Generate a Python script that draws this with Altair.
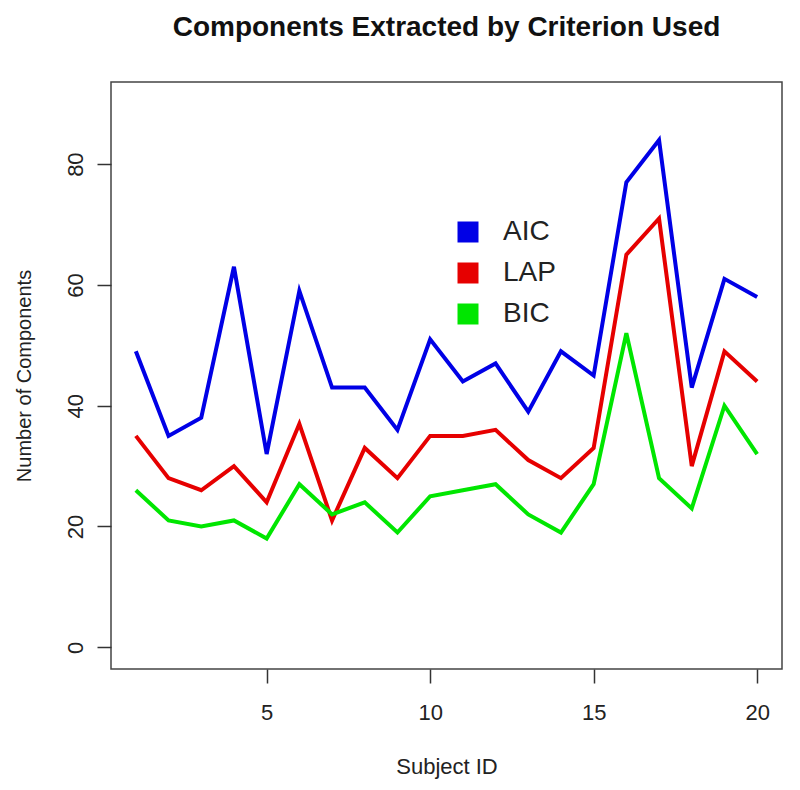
import altair as alt
import pandas as pd

subjects = list(range(1, 21))
aic = [49, 35, 38, 63, 32, 59, 43, 43, 36, 51, 44, 47, 39, 49, 45, 77, 84, 43, 61, 58]
lap = [35, 28, 26, 30, 24, 37, 21, 33, 28, 35, 35, 36, 31, 28, 33, 65, 71, 30, 49, 44]
bic = [26, 21, 20, 21, 18, 27, 22, 24, 19, 25, 26, 27, 22, 19, 27, 52, 28, 23, 40, 32]
criteria = ["AIC", "LAP", "BIC"]
colors = ["#0000e6", "#e60000", "#00e600"]
x_ticks = [5, 10, 15, 20]
y_ticks = [0, 20, 40, 60, 80]

rows = []
for name, vals in zip(criteria, [aic, lap, bic]):
    for s, v in zip(subjects, vals):
        rows.append({"Subject": s, "Value": v, "Criterion": name})
df = pd.DataFrame(rows)

FONT = "Liberation Sans"

chart = alt.Chart(df).mark_line(strokeWidth=4).encode(
    x=alt.X("Subject:Q",
            scale=alt.Scale(domain=[0.24, 20.76], nice=False, zero=False),
            axis=alt.Axis(values=x_ticks, title="Subject ID", grid=False, domain=False,
                          tickSize=14, tickWidth=1.5, tickColor="#333",
                          labelFontSize=22, labelPadding=19, labelColor="#222",
                          titleFontSize=22, titlePadding=33, titleFontWeight="normal",
                          titleColor="#222", labelFont=FONT, titleFont=FONT)),
    y=alt.Y("Value:Q",
            scale=alt.Scale(domain=[-3.6, 93.6], nice=False, zero=False),
            axis=alt.Axis(values=y_ticks, title="Number of Components", grid=False, domain=False,
                          tickSize=14, tickWidth=1.5, tickColor="#333",
                          labelFontSize=22, labelAngle=270, labelAlign="center",
                          labelBaseline="bottom", labelPadding=10, labelColor="#222",
                          titleFontSize=20, titlePadding=30, titleFontWeight="normal",
                          titleColor="#222", labelFont=FONT, titleFont=FONT)),
    color=alt.Color("Criterion:N",
                    scale=alt.Scale(domain=criteria, range=colors),
                    legend=alt.Legend(title=None, orient="none", legendX=343, legendY=136,
                                      symbolType="square", symbolSize=100,
                                      symbolStrokeWidth=11, symbolOpacity=1,
                                      labelFontSize=28, labelFont=FONT, labelColor="#222",
                                      labelOffset=21, rowPadding=-24, padding=0)),
    order=alt.Order("Subject:Q"),
).properties(
    width=671,
    height=587,
    title=alt.TitleParams("Components Extracted by Criterion Used", fontSize=28,
                          fontWeight="bold", font=FONT, color="#111", anchor="middle",
                          offset=40),
    padding={"left": 103, "top": 74, "right": 10, "bottom": 118},
    autosize=alt.AutoSizeParams(type="none"),
).configure_view(
    stroke="#444", strokeWidth=1.5
)

chart.save("out.html", embed_options={"renderer": "svg", "actions": False})
